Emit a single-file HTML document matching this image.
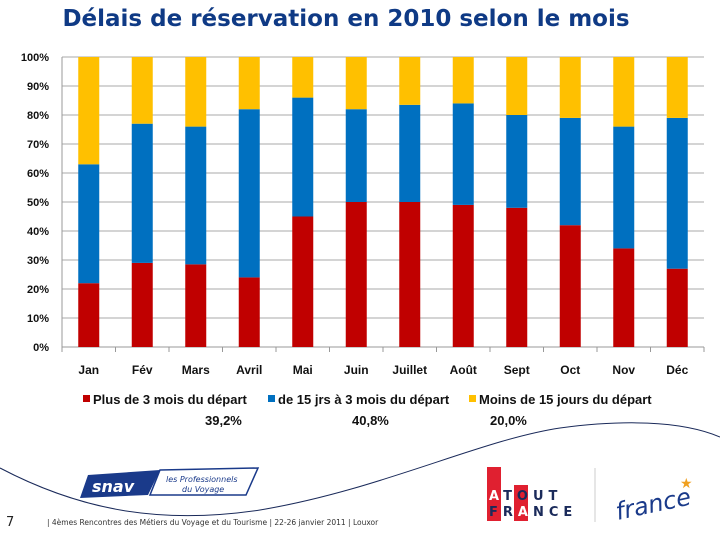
<!DOCTYPE html>
<html><head><meta charset="utf-8"><style>
body{margin:0;background:#fff;}
#wrap{position:relative;width:720px;height:540px;overflow:hidden;font-family:"DejaVu Sans","Liberation Sans",sans-serif;}
</style></head><body>
<div id="wrap">
<svg id="chart" width="720" height="540">
<text x="346" y="26" text-anchor="middle" font-size="23" font-weight="bold" fill="#0f3a85" font-family="DejaVu Sans, sans-serif">Délais de réservation en 2010 selon le mois</text>
<g id="grid"></g><g id="bars"></g><g id="axes"></g>
<g font-family="Liberation Sans, sans-serif" font-size="13" font-weight="bold" fill="#111">
<rect x="83" y="395" width="7" height="7" fill="#c00000"/>
<text x="93" y="404">Plus de 3 mois du départ</text>
<rect x="268" y="395" width="7" height="7" fill="#0070c0"/>
<text x="278" y="404">de 15 jrs à 3 mois du départ</text>
<rect x="469" y="395" width="7" height="7" fill="#ffc000"/>
<text x="479" y="404">Moins de 15 jours du départ</text>
<text x="205" y="425">39,2%</text>
<text x="352" y="425">40,8%</text>
<text x="490" y="425">20,0%</text>
</g>
<path d="M0 468 C80 510 160 525 260 510 C380 490 480 440 560 428 C620 420 680 420 720 437" fill="none" stroke="#1a2a5a" stroke-width="1"/>
<g>
<path d="M88 475 L160 470 L148 495 L80 498 Z" fill="#1a3a8a"/>
<text x="92" y="492" font-size="16" font-weight="bold" font-style="italic" fill="#fff">snav</text>
<path d="M160 470 L258 468 L246 495 L150 495 Z" fill="#fff" stroke="#1a3a8a" stroke-width="1.5"/>
<text x="166" y="482" font-size="8" font-style="italic" fill="#1a3a8a">les Professionnels</text>
<text x="182" y="492" font-size="8" font-style="italic" fill="#1a3a8a">du Voyage</text>
</g>
<g>
<rect x="487" y="467" width="14" height="54" fill="#e02030"/>
<rect x="514" y="485" width="14" height="36" fill="#e02030"/>
<text x="489" y="500" font-size="13" font-weight="bold" fill="#1a2a5a" letter-spacing="5"><tspan fill="#fff">A</tspan>TOUT</text>
<text x="489" y="516" font-size="13" font-weight="bold" fill="#1a2a5a" letter-spacing="5">FR<tspan fill="#fff">A</tspan>NCE</text>
<line x1="595" y1="468" x2="595" y2="522" stroke="#ccc"/>
<text x="615" y="515" font-size="24" font-style="italic" fill="#1a3a8a" transform="rotate(-12 640 505)">france</text>
<text x="680" y="488" font-size="14" fill="#f0a020">★</text>
</g>
<text x="6" y="526" font-size="13" fill="#222">7</text>
<text x="47" y="525" font-size="7.5" fill="#333">| 4èmes Rencontres des Métiers du Voyage et du Tourisme | 22-26 janvier 2011 | Louxor</text>
</svg>
</div>
<script>
const months = ["Jan","Fév","Mars","Avril","Mai","Juin","Juillet","Août","Sept","Oct","Nov","Déc"];
const plus3mois = [22,29,28.5,24,45,50,50,49,48,42,34,27];
const de15jrs3mois = [41,48,47.5,58,41,32,33.5,35,32,37,42,52];
const yTicks = ["0%","10%","20%","30%","40%","50%","60%","70%","80%","90%","100%"];
const NS="http://www.w3.org/2000/svg";
const x0=62,x1=704,y0=347,y1=57;
const bw=(x1-x0)/months.length;
function yS(v){return y0-(y0-y1)*v/100;}
function mk(tag,attrs,parent){const e=document.createElementNS(NS,tag);for(const k in attrs)e.setAttribute(k,attrs[k]);parent.appendChild(e);return e;}
const grid=document.getElementById('grid'),bars=document.getElementById('bars'),axes=document.getElementById('axes');
yTicks.forEach((t,i)=>{
  const v=i*10;
  const l=mk('line',{x1:x0,x2:x1,y1:yS(v),y2:yS(v),stroke:i==0?'#999':'#aaa','stroke-width':1},grid);
  
  
  const tx=mk('text',{x:49,y:yS(v)+4,'text-anchor':'end','font-size':11,'font-weight':'bold','font-family':'Liberation Sans, sans-serif',fill:'#111'},axes);
  tx.textContent=t;
  
  
});
mk('line',{x1:x0,x2:x0,y1:y1,y2:y0,stroke:'#999'},axes);
months.forEach((m,i)=>{
  const r=plus3mois[i],b=de15jrs3mois[i],c=x0+bw*(i+0.5),w=21;
  const br=mk('rect',{x:c-w/2,y:yS(r),width:w,height:yS(0)-yS(r),fill:'#c00000'},bars);
  
  
  const bb=mk('rect',{x:c-w/2,y:yS(r+b),width:w,height:yS(r)-yS(r+b),fill:'#0070c0'},bars);
  
  
  const by=mk('rect',{x:c-w/2,y:yS(100),width:w,height:yS(r+b)-yS(100),fill:'#ffc000'},bars);
  
  
  mk('line',{x1:x0+bw*(i+1),x2:x0+bw*(i+1),y1:y0,y2:y0+5,stroke:'#999'},axes);
  const tx=mk('text',{x:c,y:374,'text-anchor':'middle','font-size':12,'font-weight':'bold','font-family':'Liberation Sans, sans-serif',fill:'#111'},axes);
  tx.textContent=m;
  
  
});
mk('line',{x1:x0,x2:x0,y1:y0,y2:y0+5,stroke:'#999'},axes);
</script>
</body></html>
